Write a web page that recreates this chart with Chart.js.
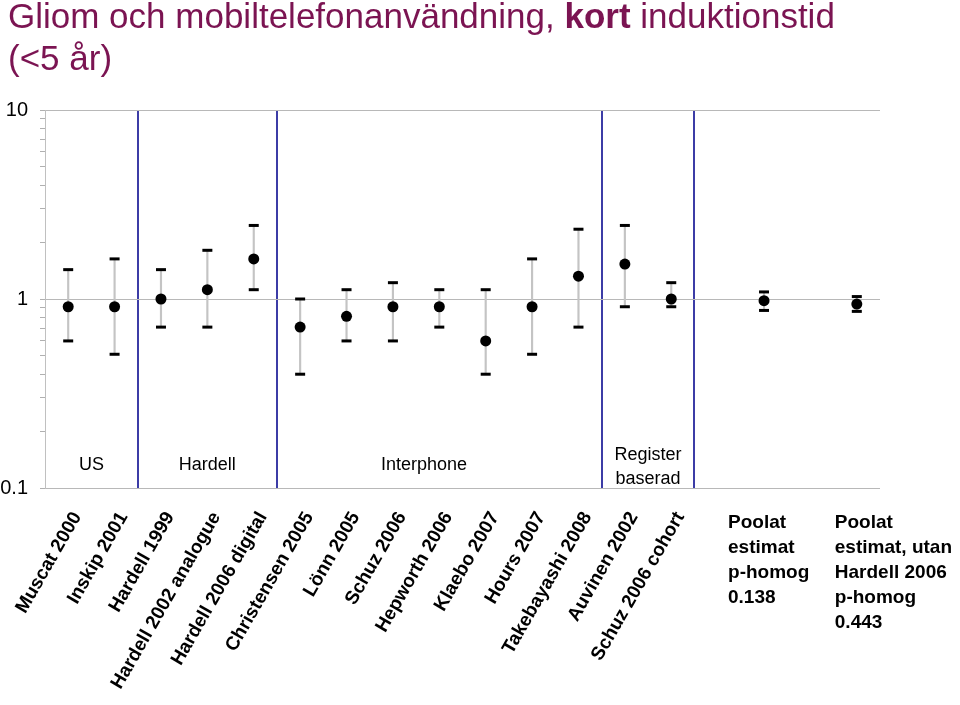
<!DOCTYPE html>
<html>
<head>
<meta charset="utf-8">
<script src="https://cdn.jsdelivr.net/npm/chart.js@4/dist/chart.umd.min.js"></script>
<style>
  html, body { margin: 0; padding: 0; background: #fff; }
  #wrap { width: 960px; height: 705px; position: relative; }
</style>
</head>
<body>
<div id="wrap"><canvas id="chart" width="960" height="705"></canvas></div>
<script>
// studies (index 14 and 16 are empty gaps, 15 and 17 the pooled estimates)
const studies = [
    'Muscat 2000', 'Inskip 2001', 'Hardell 1999', 'Hardell 2002 analogue',
    'Hardell 2006 digital', 'Christensen 2005', 'Lönn 2005', 'Schuz 2006',
    'Hepworth 2006', 'Klaebo 2007', 'Hours 2007', 'Takebayashi 2008',
    'Auvinen 2002', 'Schuz 2006 cohort', '', '', '', ''
];
const oddsRatio = [0.91, 0.91, 1.0, 1.12, 1.63, 0.71, 0.81, 0.91, 0.91, 0.60, 0.91, 1.32, 1.53, 1.0, null, 0.98, null, 0.94];
const ciLow =     [0.60, 0.51, 0.71, 0.71, 1.12, 0.40, 0.60, 0.60, 0.71, 0.40, 0.51, 0.71, 0.91, 0.91, null, 0.87, null, 0.86];
const ciHigh =    [1.43, 1.63, 1.43, 1.81, 2.45, 1.0, 1.12, 1.22, 1.12, 1.12, 1.63, 2.34, 2.45, 1.22, null, 1.09, null, 1.03];
const yTicks = [0.1, 0.2, 0.3, 0.4, 0.5, 0.6, 0.7, 0.8, 0.9, 1, 2, 3, 4, 5, 6, 7, 8, 9, 10];
const majorTicks = [0.1, 1, 10];
// groups: name lines and centre (category index)
const groups = [
    { lines: ['US'], at: 0.5 },
    { lines: ['Hardell'], at: 3 },
    { lines: ['Interphone'], at: 7.67 },
    { lines: ['Register', 'baserad'], at: 12.5 }
];
const dividers = [2, 5, 12, 14];
const pooledNotes = [
    ['Poolat', 'estimat', 'p-homog', '0.138'],
    ['Poolat', 'estimat, utan', 'Hardell 2006', 'p-homog', '0.443']
];

const FONT = '"Liberation Sans", Arial, Helvetica, sans-serif';
const whiskers = ciLow.map((lo, i) => lo == null ? null : [lo, ciHigh[i]]);

const textPlugin = {
    id: 'texts',
    afterDraw(chart) {
        const ctx = chart.ctx;
        const x = chart.scales.x;
        ctx.save();
        // title
        ctx.fillStyle = '#7b1452';
        ctx.textBaseline = 'alphabetic';
        ctx.textAlign = 'left';
        const parts = [['Gliom och mobiltelefonanvändning, ', ''], ['kort', 'bold '], [' induktionstid', '']];
        let tx = 8;
        parts.forEach(p => {
            ctx.font = p[1] + '35px ' + FONT;
            ctx.fillText(p[0], tx, 28);
            tx += ctx.measureText(p[0]).width;
        });
        ctx.font = '35px ' + FONT;
        ctx.fillText('(<5 år)', 8, 70);

        // group labels
        ctx.fillStyle = '#000';
        ctx.font = '18px ' + FONT;
        ctx.textAlign = 'center';
        ctx.textBaseline = 'middle';
        groups.forEach(g => {
            const gx = x.getPixelForValue(g.at);
            const y0 = g.lines.length > 1 ? 455 : 465;
            g.lines.forEach((l, k) => ctx.fillText(l, gx, y0 + k * 24));
        });

        // pooled notes
        ctx.font = 'bold 19px ' + FONT;
        ctx.textAlign = 'left';
        const noteX = [x.getPixelForValue(15) - 36, x.getPixelForValue(17) - 22];
        pooledNotes.forEach((lines, n) => {
            lines.forEach((l, k) => ctx.fillText(l, noteX[n], 523 + k * 25));
        });
        ctx.restore();
    }
};

const ctx = document.getElementById('chart');
new Chart(ctx, {
    type: 'bar',
    data: {
        labels: studies,
        datasets: [
            {
                label: 'OR',
                type: 'line',
                data: oddsRatio,
                showLine: false,
                pointRadius: 5.5,
                pointHoverRadius: 5.5,
                pointBackgroundColor: '#000',
                pointBorderColor: '#000',
                borderWidth: 0,
                order: 1
            },
            {
                label: 'low',
                type: 'line',
                data: ciLow,
                showLine: false,
                pointStyle: 'line',
                pointRadius: 5,
                pointBorderWidth: 3,
                pointBorderColor: '#000',
                borderColor: '#000',
                order: 2
            },
            {
                label: 'high',
                type: 'line',
                data: ciHigh,
                showLine: false,
                pointStyle: 'line',
                pointRadius: 5,
                pointBorderWidth: 3,
                pointBorderColor: '#000',
                borderColor: '#000',
                order: 2
            },
            {
                label: 'ci',
                data: whiskers,
                backgroundColor: '#c4c4c4',
                barThickness: 1.5,
                order: 3
            }
        ]
    },
    options: {
        responsive: false,
        animation: false,
        events: [],
        layout: { padding: { top: 110, right: 80, left: 0, bottom: 0 } },
        plugins: {
            legend: { display: false },
            tooltip: { enabled: false },
            title: { display: false }
        },
        scales: {
            x: {
                type: 'category',
                offset: true,
                border: { display: false },
                grid: {
                    offset: true,
                    drawTicks: false,
                    lineWidth: 2,
                    color: c => dividers.includes(c.index) ? '#3c3ca6' : 'rgba(0,0,0,0)'
                },
                ticks: {
                    autoSkip: false,
                    minRotation: 60,
                    maxRotation: 60,
                    labelOffset: 9,
                    padding: 20,
                    color: '#000',
                    font: { family: FONT, size: 19, weight: 'bold' }
                },
                afterFit: s => { s.height = 217; s.paddingLeft = 0; s.paddingRight = 0; }
            },
            y: {
                type: 'logarithmic',
                min: 0.1,
                max: 10,
                border: { display: true, color: '#c0c0c0', width: 1 },
                grid: {
                    color: c => c.tick && majorTicks.includes(c.tick.value) ? '#b8b8b8' : 'rgba(0,0,0,0)',
                    tickColor: '#b0b0b0',
                    tickLength: 5
                },
                afterBuildTicks: s => { s.ticks = yTicks.map(v => ({ value: v })); },
                ticks: {
                    autoSkip: false,
                    padding: 12,
                    color: '#000',
                    font: { family: FONT, size: 20 },
                    callback: v => majorTicks.includes(v) ? String(v) : ''
                },
                afterFit: s => { s.width = 45; s.paddingTop = 0; s.paddingBottom = 0; }
            }
        }
    },
    plugins: [textPlugin]
});
</script>
</body>
</html>
